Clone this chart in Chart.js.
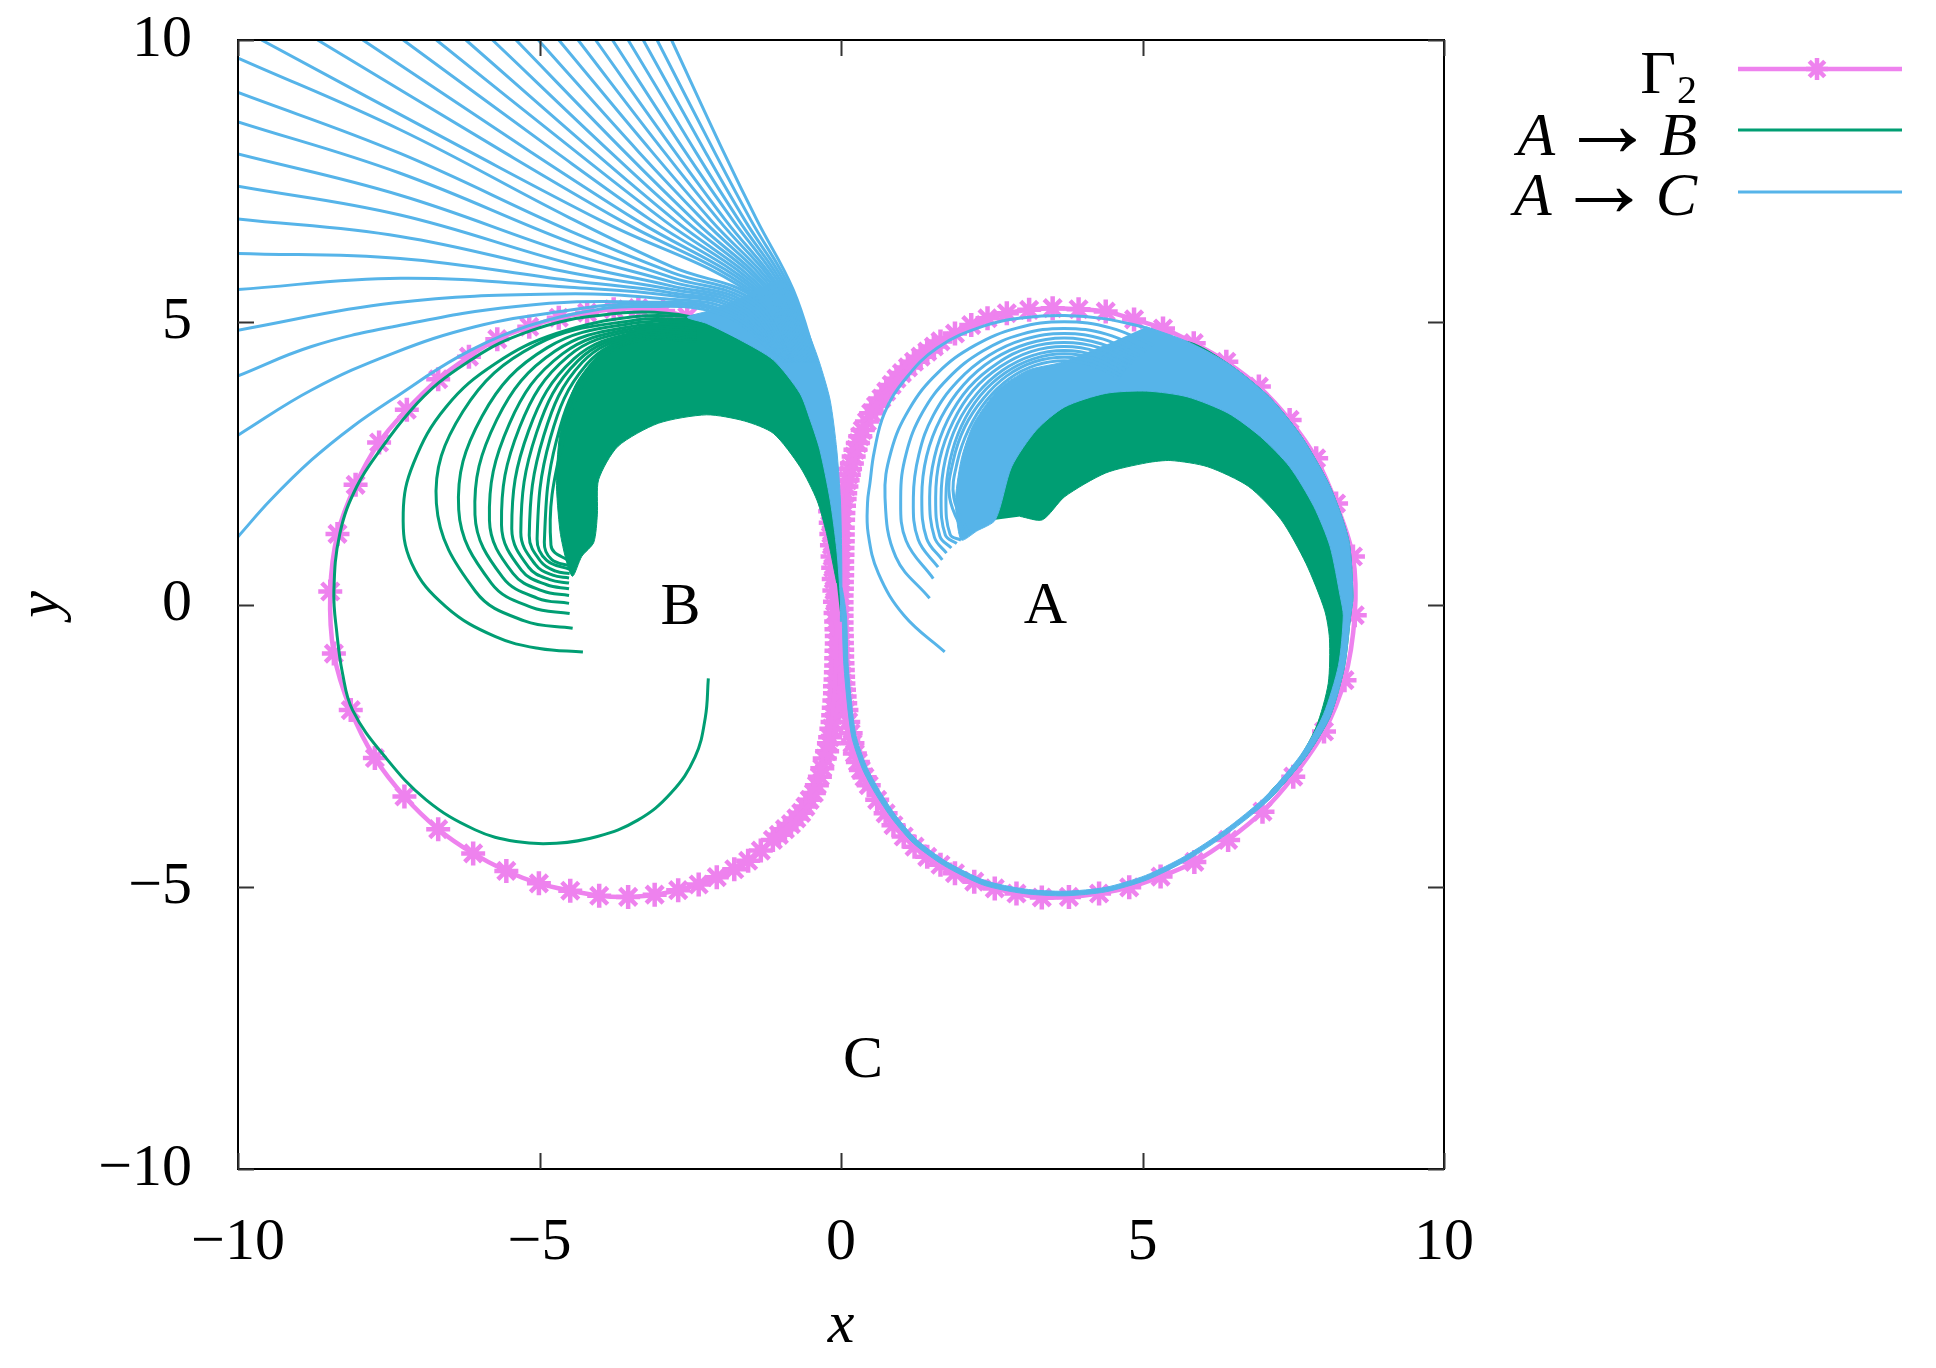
<!DOCTYPE html>
<html><head><meta charset="utf-8">
<script src="https://cdn.jsdelivr.net/npm/chart.js@4.4.1/dist/chart.umd.min.js"></script>
<style>html,body{margin:0;padding:0;background:#fff}canvas{display:block}</style>
</head><body>
<canvas id="c" width="1936" height="1368"></canvas>
<script>
// ---------- axis ticks ----------
const xTicks = [-10, -5, 0, 5, 10];
const yTicks = [-10, -5, 0, 5, 10];

// ---------- Gamma_2 curve (points = star markers) ----------
const gamma2 = [
[0.01,-0.2],[0.01,-0.08],[0.01,0.04],[0.01,0.16],[0.015,0.28],[0.015,0.4],[0.02,0.52],[0.02,0.64],[0.02,0.76],[0.025,0.88],[0.025,1.0],[0.03,1.12],[0.03,1.24],[0.03,1.36],[0.035,1.5],[0.04,1.62],[0.05,1.75],[0.06,1.87],[0.07,1.97],[0.09,2.09],[0.11,2.2],[0.13,2.3],[0.15,2.4],[0.18,2.5],[0.21,2.62],[0.24,2.74],[0.28,2.86],[0.32,2.98],[0.36,3.09],[0.43,3.24],[0.50,3.39],[0.58,3.52],[0.67,3.65],[0.75,3.77],[0.84,3.89],[0.92,4.0],[1.01,4.10],[1.11,4.20],[1.21,4.30],[1.32,4.39],[1.43,4.48],[1.54,4.57],[1.65,4.66],[1.89,4.80],[2.16,4.95],[2.43,5.07],[2.75,5.16],[3.12,5.22],[3.51,5.25],[3.94,5.23],[4.39,5.19],[4.86,5.05],[5.34,4.89],[5.85,4.63],[6.39,4.30],[6.93,3.86],[7.44,3.27],[7.88,2.59],[8.21,1.79],[8.49,0.85],[8.52,-0.19],[8.35,-1.34],[8.01,-2.25],[7.50,-3.05],[6.99,-3.67],[6.42,-4.17],[5.86,-4.56],[5.30,-4.82],[4.78,-5.01],[4.28,-5.12],[3.78,-5.18],[3.33,-5.19],[2.91,-5.12],[2.55,-5.03],[2.21,-4.91],[1.89,-4.76],[1.65,-4.61],[1.43,-4.47],[1.22,-4.29],[1.04,-4.11],[0.87,-3.91],[0.74,-3.70],[0.60,-3.46],[0.46,-3.20],[0.39,-3.06],[0.33,-2.93],[0.28,-2.79],[0.23,-2.64],[0.19,-2.46],[0.16,-2.28],[0.12,-2.08],[0.09,-1.87],[0.07,-1.75],[0.06,-1.63],[0.05,-1.51],[0.04,-1.40],[0.035,-1.28],[0.03,-1.16],[0.025,-1.04],[0.02,-0.92],[0.02,-0.80],[0.015,-0.68],[0.015,-0.56],[0.01,-0.44],[0.01,-0.32],
[-0.08,-0.3],[-0.075,-0.44],[-0.07,-0.56],[-0.07,-0.69],[-0.075,-0.82],[-0.08,-0.95],[-0.08,-1.08],[-0.085,-1.2],[-0.09,-1.33],[-0.1,-1.45],[-0.1,-1.57],[-0.11,-1.7],[-0.12,-1.83],[-0.13,-1.96],[-0.14,-2.08],[-0.16,-2.2],[-0.18,-2.35],[-0.2,-2.46],[-0.23,-2.6],[-0.27,-2.73],[-0.31,-2.9],[-0.35,-3.05],[-0.40,-3.2],[-0.45,-3.34],[-0.52,-3.46],[-0.59,-3.58],[-0.66,-3.69],[-0.74,-3.79],[-0.83,-3.89],[-0.93,-3.98],[-1.03,-4.08],[-1.13,-4.17],[-1.33,-4.36],[-1.54,-4.54],[-1.77,-4.69],[-2.06,-4.83],[-2.36,-4.96],[-2.70,-5.06],[-3.09,-5.14],[-3.53,-5.18],[-4.01,-5.16],[-4.49,-5.07],[-5.01,-4.94],[-5.55,-4.72],[-6.10,-4.41],[-6.68,-3.98],[-7.24,-3.40],[-7.73,-2.72],[-8.13,-1.87],[-8.41,-0.87],[-8.47,0.23],[-8.35,1.25],[-8.05,2.12],[-7.66,2.87],[-7.20,3.45],[-6.68,3.99],[-6.17,4.39],[-5.70,4.70],[-5.17,4.92],[-4.68,5.08],[-4.21,5.17],[-3.77,5.23],[-3.36,5.25],[-2.95,5.2],[-2.55,5.1],[-2.2,4.97],[-1.9,4.82],[-1.62,4.65],[-1.4,4.47],[-1.2,4.28],[-1.02,4.07],[-0.86,3.86],[-0.72,3.65],[-0.6,3.45],[-0.5,3.25],[-0.42,3.05],[-0.36,2.85],[-0.31,2.65],[-0.27,2.45],[-0.24,2.25],[-0.21,2.05],[-0.19,1.85],[-0.18,1.65],[-0.17,1.45],[-0.16,1.25],[-0.15,1.05],[-0.14,0.85],[-0.13,0.65],[-0.12,0.45],[-0.11,0.25],[-0.1,0.05],[-0.09,-0.15]
];

// ---------- A -> C : escaping fan (exit through top edge) ----------
const blueFanTop = [
[[-2.81,10],[-1.94,8.0],[-1.39,6.8],[-0.79,5.57],[-0.40,4.3]],
[[-3.05,10],[-2.09,8.0],[-1.49,6.8],[-0.825,5.56],[-0.42,4.3]],
[[-3.28,10],[-2.24,8.0],[-1.59,6.8],[-0.86,5.55],[-0.44,4.3]],
[[-3.53,10],[-2.40,8.0],[-1.69,6.8],[-0.895,5.54],[-0.46,4.3]],
[[-3.79,10],[-2.57,8.0],[-1.79,6.8],[-0.93,5.53],[-0.48,4.3]],
[[-4.07,10],[-2.74,8.0],[-1.91,6.8],[-0.965,5.52],[-0.50,4.3]],
[[-4.36,10],[-2.92,8.0],[-2.02,6.8],[-1.0,5.51],[-0.52,4.3]],
[[-4.68,10],[-3.12,8.0],[-2.15,6.8],[-1.035,5.50],[-0.54,4.3]],
[[-5.02,10],[-3.34,8.0],[-2.28,6.8],[-1.07,5.49],[-0.56,4.3]],
[[-5.39,10],[-3.57,8.0],[-2.43,6.8],[-1.105,5.48],[-0.58,4.3]],
[[-5.78,10],[-3.81,8.0],[-2.58,6.8],[-1.14,5.47],[-0.60,4.3]],
[[-6.22,10],[-4.08,8.0],[-2.75,6.8],[-1.175,5.46],[-0.62,4.3]],
[[-6.71,10],[-4.37,8.0],[-2.93,6.8],[-1.21,5.45],[-0.64,4.3]],
[[-7.26,10],[-4.71,8.0],[-3.14,6.8],[-1.245,5.44],[-0.66,4.3]],
[[-7.93,10],[-5.12,8.0],[-3.38,6.8],[-1.28,5.43],[-0.68,4.3]],
[[-8.68,10],[-5.57,8.0],[-3.65,6.8],[-1.315,5.42],[-0.70,4.3]],
[[-9.61,10],[-6.12,8.0],[-3.98,6.8],[-1.35,5.41],[-0.72,4.3]]
];
// ---------- A -> C : escaping fan (exit through left edge) ----------
const blueFanLeft = [
[[-10,9.68],[-7.31,8.41],[-4.5,6.85],[-2.8,5.98],[-1.39,5.40],[-0.74,4.3]],
[[-10,9.07],[-7.31,7.99],[-4.5,6.62],[-2.8,5.88],[-1.44,5.375],[-0.76,4.3]],
[[-10,8.55],[-7.31,7.64],[-4.5,6.42],[-2.8,5.79],[-1.49,5.35],[-0.78,4.3]],
[[-10,7.98],[-7.31,7.25],[-4.5,6.22],[-2.8,5.71],[-1.54,5.325],[-0.80,4.3]],
[[-10,7.41],[-7.31,6.90],[-4.5,6.04],[-2.8,5.64],[-1.59,5.30],[-0.82,4.3]],
[[-10,6.83],[-7.31,6.52],[-4.5,5.88],[-2.8,5.58],[-1.64,5.275],[-0.84,4.3]],
[[-10,6.22],[-7.31,6.13],[-4.5,5.74],[-2.8,5.52],[-1.69,5.25],[-0.86,4.3]],
[[-10,5.58],[-7.31,5.78],[-4.5,5.62],[-2.8,5.47],[-1.74,5.225],[-0.88,4.3]],
[[-10,4.86],[-7.43,5.34],[-4.72,5.50],[-3.0,5.42],[-1.79,5.20],[-0.90,4.3]],
[[-10,4.05],[-8.78,4.57],[-7.43,4.92],[-5.39,5.28],[-3.37,5.36],[-1.84,5.175],[-0.92,4.3]],
[[-10,3.0],[-8.78,3.80],[-7.43,4.45],[-6.07,4.92],[-4.72,5.18],[-3.37,5.32],[-1.89,5.15],[-0.94,4.3]],
[[-10,1.2],[-9.46,1.85],[-8.78,2.56],[-8.10,3.15],[-7.42,3.65],[-6.34,4.39],[-5.39,4.86],[-4.38,5.16],[-3.37,5.28],[-1.94,5.125],[-0.96,4.3]]
];
// ---------- A -> C : starting arcs around A ----------
const blueArcsA = [
[[1.72,-0.84],[1.05,-0.2],[0.62,0.55],[0.45,1.26],[0.44,1.8],[0.48,2.15],[0.55,2.7],[0.72,3.39],[1.07,4.0],[1.6,4.55],[2.36,4.93],[3.03,5.08],[3.71,5.12],[4.39,5.06],[5.07,4.9]],
[[1.47,0.11],[0.91,0.84],[0.73,1.9],[0.83,2.71],[1.13,3.46],[1.6,4.1],[2.22,4.59],[2.93,4.9],[3.70,5.01],[4.47,4.9],[5.19,4.59]],
[[1.53,0.46],[1.08,1.13],[0.99,1.9],[1.08,2.67],[1.35,3.40],[1.78,4.01],[2.35,4.49],[3.0,4.79],[3.70,4.89],[4.40,4.79],[5.06,4.49]],
[[1.61,0.66],[1.28,1.15],[1.20,1.9],[1.29,2.65],[1.53,3.35],[1.93,3.95],[2.45,4.41],[3.05,4.70],[3.70,4.80],[4.35,4.70],[4.95,4.41]],
[[1.68,0.79],[1.42,1.17],[1.34,1.9],[1.42,2.63],[1.66,3.31],[2.03,3.89],[2.52,4.34],[3.09,4.62],[3.70,4.72],[4.31,4.62],[4.88,4.34]],
[[1.75,0.91],[1.55,1.19],[1.47,1.9],[1.55,2.61],[1.77,3.27],[2.12,3.84],[2.59,4.27],[3.12,4.55],[3.70,4.64],[4.28,4.55],[4.82,4.27]],
[[1.83,1.00],[1.64,1.21],[1.57,1.9],[1.64,2.59],[1.86,3.24],[2.19,3.79],[2.64,4.21],[3.15,4.48],[3.70,4.57],[4.25,4.48],[4.77,4.21]],
[[1.92,1.08],[1.73,1.23],[1.66,1.9],[1.73,2.57],[1.93,3.20],[2.26,3.74],[2.68,4.15],[3.17,4.41],[3.70,4.50],[4.23,4.41],[4.72,4.15]],
[[1.99,1.14],[1.81,1.24],[1.74,1.9],[1.81,2.56],[2.0,3.17],[2.31,3.70],[2.72,4.10],[3.19,4.35],[3.70,4.44],[4.21,4.35],[4.68,4.10]],
[[2.06,1.20],[1.80,1.9],[1.86,2.54],[2.05,3.14],[2.36,3.65],[2.75,4.05],[3.21,4.30],[3.70,4.38],[4.19,4.30],[4.65,4.05]],
[[2.12,1.25],[1.87,1.9],[1.93,2.53],[2.12,3.11],[2.41,3.61],[2.79,4.0],[3.23,4.24],[3.70,4.32],[4.17,4.24],[4.62,4.0]]
];
// ---------- A -> C : dense bands (outline) ----------
const blueBandRight = [
[5.07,4.92],[5.74,4.66],[6.42,4.27],[7.10,3.68],[7.64,2.97],[8.11,2.09],[8.42,1.14],[8.49,0.14],[8.45,-0.22],[8.35,-1.10],[8.11,-1.99],[7.71,-2.70],[7.10,-3.46],[6.42,-4.05],[5.74,-4.53],[5.07,-4.88],[4.39,-5.09],[3.71,-5.16],[3.03,-5.12],[2.36,-4.97],[1.7,-4.62],[1.2,-4.23],[0.85,-3.8],[0.57,-3.35],[0.35,-2.9],[0.17,-2.3],[0.05,-1.1],[0.02,-0.2],[0.015,0.3],
[0.09,-0.2],[0.12,-1.1],[0.24,-2.28],[0.42,-2.86],[0.64,-3.3],[0.91,-3.74],[1.25,-4.16],[1.74,-4.55],[2.39,-4.89],[3.04,-5.04],[3.71,-5.08],[4.39,-5.01],[5.05,-4.80],[5.70,-4.46],[6.37,-3.99],[7.03,-3.41],[7.62,-2.67],[8.0,-1.95],[8.25,-1.08],[8.33,-0.2],[8.28,0.14],[8.11,1.03],[7.84,1.74],[7.44,2.44],[6.96,2.97],[6.42,3.39],[5.74,3.68],[5.07,3.78],[4.39,3.74],[3.71,3.50],[3.24,3.09],[2.83,2.44],[2.56,1.50],[2.25,1.30],[2.0,1.14],[1.92,1.5],[1.90,1.9],[2.0,2.6],[2.2,3.2],[2.6,3.8],[3.1,4.15],[3.7,4.3],[4.4,4.6]
];
const blueBandLeft = [
[0.01,-0.3],[0.015,0.08],[0.01,0.97],[-0.01,1.85],[-0.07,2.74],[-0.18,3.62],[-0.36,4.3],[-0.53,4.8],[-0.72,5.35],[-0.85,5.7],[-1.1,5.72],[-1.4,5.56],[-1.8,5.36],[-2.2,5.2],[-2.55,5.09],[-2.23,4.98],[-1.68,4.69],[-1.12,4.33],[-0.68,3.74],[-0.51,3.27],[-0.35,2.74],[-0.18,1.85],[-0.07,0.97],[-0.01,0.08],[-0.01,-0.3]
];

// ---------- A -> B : arcs spiralling into B ----------
const greenOuterB = [
[-1.0,4.3],[-1.7,4.85],[-2.5,5.1],[-3.3,5.18],[-4.18,5.10],[-4.65,5.01],[-5.12,4.86],[-5.66,4.63],[-6.14,4.33],[-6.68,3.92],[-7.15,3.42],[-7.60,2.80],[-8.03,2.09],[-8.31,1.26],[-8.41,0.23],[-8.36,-0.51],[-8.27,-1.2],[-8.10,-1.87],[-7.56,-2.70],[-6.88,-3.46],[-6.07,-3.99],[-5.39,-4.20],[-4.72,-4.23],[-4.04,-4.11],[-3.37,-3.82],[-2.82,-3.34],[-2.42,-2.70],[-2.25,-2.0],[-2.20,-1.31]
];
const greenArcsB = [
[[-2.4,5.1],[-3.4,5.10],[-4.72,4.80],[-5.73,4.27],[-6.55,3.50],[-7.09,2.50],[-7.26,1.62],[-7.12,0.73],[-6.55,-0.04],[-5.73,-0.57],[-5.0,-0.78],[-4.28,-0.84]],
[[-2.4,5.04],[-3.4,5.04],[-5.06,4.60],[-6.27,3.42],[-6.71,1.79],[-6.06,0.23],[-5.25,-0.29],[-4.45,-0.42]],
[[-2.4,4.99],[-3.4,4.99],[-4.87,4.55],[-5.95,3.34],[-6.34,1.68],[-5.80,0.38],[-5.13,-0.05],[-4.50,-0.16]],
[[-2.4,4.94],[-3.4,4.94],[-4.74,4.49],[-5.71,3.27],[-6.07,1.59],[-5.61,0.48],[-5.03,0.11],[-4.51,0.02]],
[[-2.4,4.90],[-3.4,4.90],[-4.62,4.44],[-5.50,3.20],[-5.83,1.49],[-5.44,0.55],[-4.95,0.24],[-4.51,0.16]],
[[-2.4,4.86],[-3.4,4.86],[-4.52,4.40],[-5.33,3.14],[-5.63,1.41],[-5.30,0.61],[-4.88,0.35],[-4.51,0.28]],
[[-2.4,4.82],[-3.4,4.82],[-4.43,4.35],[-5.18,3.08],[-5.46,1.34],[-5.18,0.66],[-4.83,0.44],[-4.51,0.38]],
[[-2.4,4.79],[-3.4,4.79],[-4.36,4.32],[-5.05,3.04],[-5.31,1.28],[-5.07,0.71],[-4.78,0.52],[-4.51,0.47]],
[[-2.4,4.76],[-3.4,4.76],[-4.29,4.29],[-4.93,2.99],[-5.17,1.22],[-4.97,0.75],[-4.73,0.59],[-4.50,0.55]],
[[-2.4,4.73],[-3.4,4.73],[-4.22,4.25],[-4.82,2.95],[-5.04,1.16],[-4.88,0.78],[-4.49,0.62]],
[[-2.4,4.70],[-3.4,4.70],[-4.16,4.22],[-4.72,2.90],[-4.92,1.10],[-4.80,0.80],[-4.48,0.68]],
[[-2.4,4.67],[-3.4,4.67],[-4.11,4.18],[-4.62,2.86],[-4.81,1.05],[-4.47,0.74]]
];
// ---------- A -> B : dense bands (outline) ----------
const greenBandRight = [
[2.56,1.5],[2.75,2.5],[3.1,3.3],[3.6,3.8],[4.39,4.2],[5.07,4.5],[5.74,4.66],[6.42,4.27],[7.10,3.68],[7.64,2.97],[8.11,2.09],[8.42,1.14],[8.49,0.14],[8.45,-0.22],[8.35,-1.10],[8.11,-1.99],[7.71,-2.70],[7.10,-3.46],[7.10,-3.34],[7.54,-2.82],[7.88,-2.17],[8.08,-1.40],[8.10,-0.6],[8.02,-0.1],[7.71,0.73],[7.30,1.50],[6.76,2.09],[6.08,2.44],[5.47,2.55],[5.07,2.51],[4.39,2.33],[3.71,1.91],[3.34,1.50],[2.97,1.56]
];
const greenBandLeft = [
[0.0,-0.3],[-0.02,0.5],[-0.1,1.5],[-0.25,2.6],[-0.5,3.5],[-0.9,4.3],[-1.5,4.8],[-2.2,5.08],[-2.9,5.02],[-3.5,4.82],[-4.0,4.45],[-4.4,3.9],[-4.65,3.1],[-4.72,2.2],[-4.66,1.3],[-4.55,0.75],[-4.45,0.5],[-4.3,0.85],[-4.1,1.1],[-4.04,1.6],[-4.02,2.21],[-3.70,2.80],[-3.03,3.21],[-2.23,3.36],[-1.6,3.25],[-1.12,3.03],[-0.68,2.44],[-0.40,1.85],[-0.24,1.26],[-0.07,0.38]
];

// ---------- region labels ----------
const regionNames = ['A', 'B', 'C'];
const regionX = [3.39, -2.66, 0.365];
const regionY = [-0.04, -0.06, -8.10];

// ---------- legend ----------
const seriesNames = ['Γ2', 'A → B', 'A → C'];

// ---------- build chart ----------
const VIOLET = '#EE82EE', GREEN = '#009E73', BLUE = '#56B4E9';
const toXY = arr => arr.map(p => ({x: p[0], y: p[1]}));
function lineDs(arr, color, w, name) {
  return {label: name || '', data: toXY(arr), showLine: true, borderColor: color, backgroundColor: color,
          borderWidth: w, pointRadius: 0, tension: 0.4, fill: false};
}
function bandDs(arr, color, name) {
  return {label: name || '', data: toXY(arr), showLine: true, borderColor: color, backgroundColor: color,
          borderWidth: 1, pointRadius: 0, tension: 0.25, fill: 'shape'};
}
const datasets = [];
blueFanTop.forEach(l => datasets.push(lineDs(l, BLUE, 3, seriesNames[2])));
blueFanLeft.forEach(l => datasets.push(lineDs(l, BLUE, 3, seriesNames[2])));
blueArcsA.forEach(l => datasets.push(lineDs(l, BLUE, 3, seriesNames[2])));
datasets.push(bandDs(blueBandRight, BLUE, seriesNames[2]));
datasets.push(bandDs(blueBandLeft, BLUE, seriesNames[2]));
datasets.push(lineDs(greenOuterB, GREEN, 3, seriesNames[1]));
greenArcsB.forEach(l => datasets.push(lineDs(l, GREEN, 3, seriesNames[1])));
datasets.push(bandDs(greenBandRight, GREEN, seriesNames[1]));
datasets.push(bandDs(greenBandLeft, GREEN, seriesNames[1]));
datasets.push({label: seriesNames[0], data: toXY(gamma2), showLine: true, borderColor: VIOLET, backgroundColor: VIOLET,
  borderWidth: 4.5, tension: 0.35, pointStyle: 'star', pointRadius: 12, pointBorderWidth: 4.5,
  pointBorderColor: VIOLET, pointBackgroundColor: VIOLET, fill: false});

const SERIF = '"Liberation Serif", "DejaVu Serif", serif';
const TICKLEN = 16;

const overlay = {
  id: 'overlay',
  afterDatasetsDraw(chart) {
    const {ctx, chartArea: a, scales: {x, y}} = chart;
    ctx.save();
    ctx.fillStyle = '#000';
    ctx.font = '60px ' + SERIF;
    ctx.textAlign = 'center';
    ctx.textBaseline = 'middle';
    regionNames.forEach((t, i) => ctx.fillText(t, x.getPixelForValue(regionX[i]), y.getPixelForValue(regionY[i])));
    ctx.strokeStyle = '#000';
    ctx.lineWidth = 2;
    ctx.strokeRect(a.left, a.top, a.right - a.left, a.bottom - a.top);
    ctx.strokeStyle = '#333';
    ctx.beginPath();
    xTicks.forEach(v => {
      const px = Math.round(x.getPixelForValue(v)) + 0.5;
      ctx.moveTo(px, a.bottom); ctx.lineTo(px, a.bottom - TICKLEN);
      ctx.moveTo(px, a.top); ctx.lineTo(px, a.top + TICKLEN);
    });
    yTicks.forEach(v => {
      const py = Math.round(y.getPixelForValue(v)) + 0.5;
      ctx.moveTo(a.left, py); ctx.lineTo(a.left + TICKLEN, py);
      ctx.moveTo(a.right, py); ctx.lineTo(a.right - TICKLEN, py);
    });
    ctx.stroke();
    ctx.restore();
  },
  afterDraw(chart) {
    const ctx = chart.ctx;
    ctx.save();
    ctx.fillStyle = '#000';
    ctx.textBaseline = 'alphabetic';
    const xr = 1697;
    ctx.textAlign = 'right';
    ctx.font = '40px ' + SERIF;
    const w2 = ctx.measureText('2').width;
    ctx.fillText('2', xr, 103);
    ctx.font = '62px ' + SERIF;
    ctx.fillText('Γ', xr - w2 - 1, 93);
    function arrowLabel(rhs, base) {
      ctx.textAlign = 'right';
      ctx.font = 'italic 62px ' + SERIF;
      ctx.fillText(rhs, xr, base);
      const wr = ctx.measureText(rhs).width;
      const arrowRight = xr - wr - 4;
      ctx.font = '96px ' + SERIF;
      ctx.fillText('\u2192', arrowRight, base + 1);
      const wa = ctx.measureText('\u2192').width;
      ctx.font = 'italic 62px ' + SERIF;
      ctx.fillText('A', arrowRight - wa - 4, base);
    }
    arrowLabel('B', 155);
    arrowLabel('C', 215);
    const x0 = 1738, x1 = 1902;
    const rows = [[69, VIOLET, 4.5], [130, GREEN, 3], [192, BLUE, 3]];
    rows.forEach(([yy, c, w]) => {
      ctx.strokeStyle = c; ctx.lineWidth = w;
      ctx.beginPath(); ctx.moveTo(x0, yy); ctx.lineTo(x1, yy); ctx.stroke();
    });
    const sx = 1817, sy = 69, r = 11;
    ctx.strokeStyle = VIOLET; ctx.lineWidth = 4.5;
    ctx.beginPath();
    ctx.moveTo(sx - r, sy); ctx.lineTo(sx + r, sy);
    ctx.moveTo(sx, sy - r); ctx.lineTo(sx, sy + r);
    const d = r * 0.7071;
    ctx.moveTo(sx - d, sy - d); ctx.lineTo(sx + d, sy + d);
    ctx.moveTo(sx - d, sy + d); ctx.lineTo(sx + d, sy - d);
    ctx.stroke();
    ctx.restore();
  }
};

const tickFmt = v => String(v).replace('-', '\u2212');

new Chart(document.getElementById('c'), {
  type: 'scatter',
  data: {datasets},
  options: {
    responsive: false,
    animation: false,
    devicePixelRatio: 1,
    events: [],
    layout: {padding: {top: 40, right: 492, left: 0, bottom: 0}},
    elements: {line: {capBezierPoints: false}},
    plugins: {legend: {display: false}, tooltip: {enabled: false}},
    scales: {
      x: {
        type: 'linear', min: -10, max: 10,
        afterBuildTicks: s => { s.ticks = xTicks.map(v => ({value: v})); },
        afterFit: s => { s.height = 199; s.paddingLeft = 0; s.paddingRight = 0; },
        grid: {display: false}, border: {display: false},
        ticks: {callback: tickFmt, color: '#000', padding: 30, maxRotation: 0, font: {family: SERIF, size: 60}},
        title: {display: true, text: 'x', color: '#000', padding: {top: 0, bottom: 6}, font: {family: SERIF, size: 60, style: 'italic'}}
      },
      y: {
        type: 'linear', min: -10, max: 10,
        afterBuildTicks: s => { s.ticks = yTicks.map(v => ({value: v})); },
        afterFit: s => { s.width = 238; s.paddingTop = 0; s.paddingBottom = 0; },
        grid: {display: false}, border: {display: false},
        ticks: {callback: tickFmt, color: '#000', padding: 38, font: {family: SERIF, size: 60}},
        title: {display: true, text: 'y', color: '#000', padding: {top: 6, bottom: 0}, font: {family: SERIF, size: 60, style: 'italic'}}
      }
    }
  },
  plugins: [overlay]
});
</script>
</body></html>
